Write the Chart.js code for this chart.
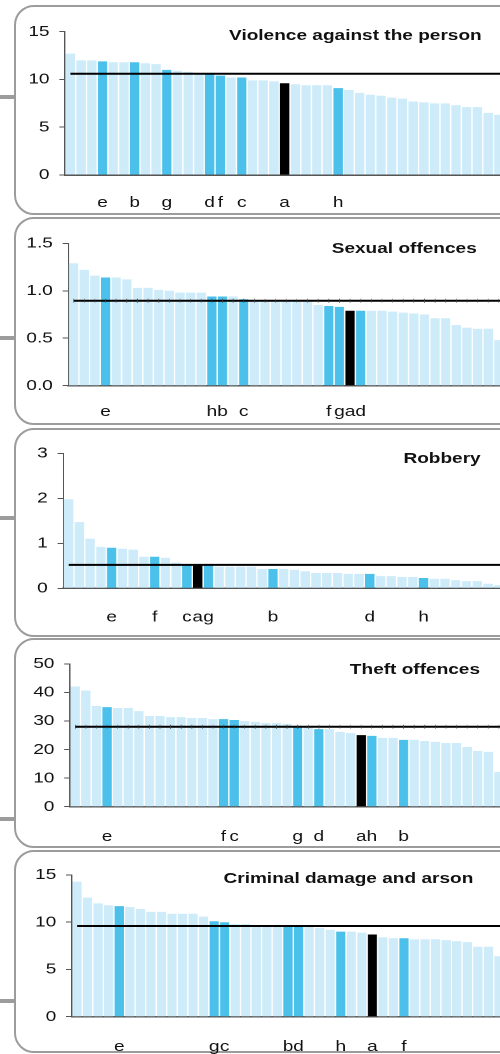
<!doctype html>
<html>

<head>
	<title>Offence rates by force</title>
	<script src="https://cdn.jsdelivr.net/npm/chart.js@4.4.1/dist/chart.umd.min.js"></script>
	<style>
		body { margin: 0; width: 500px; height: 1054px; overflow: hidden; position: relative; background: #fff; font-family: 'Liberation Sans', Arial, sans-serif; }
		.box { position: absolute; left: 14px; width: 520px; border: 2px solid #9c9c9c; border-radius: 20px; box-sizing: border-box; }
		.stub { position: absolute; left: 0; width: 15px; height: 4px; background: #9c9c9c; }
		/* the original picture is stretched sideways, so the charts are too */
		#wrap { position: absolute; left: 0; top: 0; width: 397px; height: 1054px; transform: scaleX(1.27); transform-origin: 0 0; }
		#wrap canvas { position: absolute; left: 0; }
		.ttl { position: absolute; left: 0; font-weight: bold; font-size: 15px; line-height: 15px; text-align: right; color: #111; white-space: nowrap; }
	</style>
</head>

<body>
	<div class="stub" style="top:95px"></div>
	<div class="stub" style="top:336px"></div>
	<div class="stub" style="top:516px"></div>
	<div class="stub" style="top:817px"></div>
	<div class="stub" style="top:999px"></div>

	<div class="box" style="top:5px;height:210px"></div>
	<div class="box" style="top:217px;height:208px"></div>
	<div class="box" style="top:428px;height:209px"></div>
	<div class="box" style="top:638px;height:210px"></div>
	<div class="box" style="top:850px;height:203px"></div>

	<div id="wrap">
		<canvas id="violence" width="397" height="205" style="top:12px"></canvas>
		<canvas id="sexual" width="397" height="205" style="top:223px"></canvas>
		<canvas id="robbery" width="397" height="205" style="top:433px"></canvas>
		<canvas id="theft" width="397" height="205" style="top:644px"></canvas>
		<canvas id="damage" width="397" height="205" style="top:855px"></canvas>

		<div class="ttl" style="top:27.3px;width:379.3px">Violence against the person</div>
		<div class="ttl" style="top:240.3px;width:375.4px">Sexual offences</div>
		<div class="ttl" style="top:450.3px;width:378.5px">Robbery</div>
		<div class="ttl" style="top:661.3px;width:378px">Theft offences</div>
		<div class="ttl" style="top:870.3px;width:372.7px">Criminal damage and arson</div>
	</div>

	<script>
		// forces sorted by rate; only the highlighted ones carry a letter
		var violenceLabels = ['', '', '', 'e', '', '', 'b', '', '', 'g', '', '', '', 'd', 'f', '', 'c', '', '', '', 'a', '', '', '', '', 'h', '', '', '', '', '', '', '', '', '', '', '', '', '', '', ''];
		var violenceValues = [12.7, 12.0, 12.0, 11.9, 11.8, 11.8, 11.8, 11.7, 11.6, 11.0, 10.9, 10.8, 10.6, 10.6, 10.4, 10.2, 10.2, 9.9, 9.9, 9.8, 9.6, 9.5, 9.4, 9.4, 9.4, 9.1, 8.9, 8.6, 8.4, 8.3, 8.1, 8.0, 7.7, 7.6, 7.5, 7.5, 7.3, 7.1, 7.1, 6.5, 6.3];
		var violenceMean = 10.6;

		var sexualLabels = ['', '', '', 'e', '', '', '', '', '', '', '', '', '', 'h', 'b', '', 'c', '', '', '', '', '', '', '', 'f', 'g', 'a', 'd', '', '', '', '', '', '', '', '', '', '', '', '', ''];
		var sexualValues = [1.29, 1.22, 1.16, 1.14, 1.14, 1.12, 1.03, 1.03, 1.01, 1.00, 0.98, 0.98, 0.98, 0.94, 0.94, 0.94, 0.91, 0.90, 0.90, 0.90, 0.90, 0.90, 0.90, 0.85, 0.84, 0.83, 0.79, 0.79, 0.79, 0.79, 0.78, 0.77, 0.76, 0.75, 0.71, 0.71, 0.64, 0.61, 0.60, 0.60, 0.48];
		var sexualMean = 0.895;

		var robberyLabels = ['', '', '', '', 'e', '', '', '', 'f', '', '', 'c', 'a', 'g', '', '', '', '', '', 'b', '', '', '', '', '', '', '', '', 'd', '', '', '', '', 'h', '', '', '', '', '', '', ''];
		var robberyValues = [1.98, 1.47, 1.10, 0.92, 0.90, 0.88, 0.86, 0.70, 0.70, 0.68, 0.57, 0.53, 0.52, 0.52, 0.48, 0.48, 0.48, 0.48, 0.43, 0.43, 0.43, 0.41, 0.38, 0.34, 0.34, 0.34, 0.32, 0.32, 0.32, 0.27, 0.27, 0.25, 0.25, 0.23, 0.21, 0.21, 0.18, 0.16, 0.16, 0.10, 0.07];
		var robberyMean = 0.52;

		var theftLabels = ['', '', '', 'e', '', '', '', '', '', '', '', '', '', '', 'f', 'c', '', '', '', '', '', 'g', '', 'd', '', '', '', 'a', 'h', '', '', 'b', '', '', '', '', '', '', '', '', ''];
		var theftValues = [42.1, 40.7, 35.3, 34.9, 34.6, 34.6, 33.5, 31.8, 31.8, 31.4, 31.4, 31.1, 31.1, 30.7, 30.7, 30.4, 30.0, 29.7, 29.3, 29.3, 29.0, 28.3, 28.0, 27.2, 27.2, 26.2, 25.8, 25.1, 24.8, 24.1, 24.1, 23.4, 23.4, 23.0, 22.7, 22.3, 22.3, 20.9, 19.5, 19.2, 12.2];
		var theftMean = 28.0;

		var damageLabels = ['', '', '', '', 'e', '', '', '', '', '', '', '', '', 'g', 'c', '', '', '', '', '', 'b', 'd', '', '', '', 'h', '', '', 'a', '', '', 'f', '', '', '', '', '', '', '', '', ''];
		var damageValues = [14.3, 12.6, 12.0, 11.8, 11.7, 11.6, 11.4, 11.1, 11.1, 10.9, 10.9, 10.9, 10.6, 10.1, 10.0, 9.8, 9.8, 9.6, 9.6, 9.6, 9.6, 9.6, 9.6, 9.4, 9.2, 9.0, 9.0, 8.9, 8.7, 8.4, 8.3, 8.3, 8.2, 8.2, 8.2, 8.1, 8.0, 7.9, 7.4, 7.4, 6.4];
		var damageMean = 9.6;

		Chart.defaults.font.family = "'Liberation Sans', Arial, sans-serif";
		Chart.defaults.font.size = 15;
		Chart.defaults.color = '#111';

		// black line for the average, drawn through the chart's own scales
		var meanLine = {
			id: 'meanLine',
			afterDatasetsDraw: function(chart, args, opts) {
				var xs = chart.scales.x;
				var py = chart.scales.y.getPixelForValue(opts.value);
				var ctx = chart.ctx;
				ctx.save();
				ctx.strokeStyle = '#000';
				ctx.lineWidth = 2;
				ctx.beginPath();
				ctx.moveTo(xs.getPixelForValue(0), py);
				ctx.lineTo(chart.width, py);
				ctx.stroke();
				if (opts.marks) {
					ctx.lineWidth = 0.5;
					ctx.strokeStyle = '#444';
					ctx.beginPath();
					for (var i = 0; i < xs.ticks.length; i++) {
						var px = xs.getPixelForValue(i);
						ctx.moveTo(px, py - 2);
						ctx.lineTo(px, py + 2);
					}
					ctx.stroke();
				}
				ctx.restore();
			}
		};

		function barColours(labels) {
			return labels.map(function(l) {
				if (l === 'a') return '#000000';
				return l ? '#4ac0eb' : '#cdebf8';
			});
		}

		// plotTop / plotBottom: where the axis maximum and zero sit inside the canvas
		function makePanel(id, labels, values, mean, yMax, step, decimals, axisWidth, plotTop, plotBottom, labelPad, marks) {
			var canvas = document.getElementById(id);
			var ctx = canvas.getContext('2d');
			var xAxisHeight = canvas.height - plotBottom;
			return new Chart(ctx, {
				type: 'bar',
				data: {
					labels: labels,
					datasets: [{
						data: values,
						backgroundColor: barColours(labels),
						barPercentage: 0.87,
						categoryPercentage: 1
					}]
				},
				options: {
					responsive: false,
					animation: false,
					devicePixelRatio: 2,
					layout: { autoPadding: false, padding: { top: plotTop, right: 0, bottom: 0, left: 0 } },
					plugins: {
						legend: { display: false },
						tooltip: { enabled: false },
						meanLine: { value: mean, marks: marks }
					},
					scales: {
						x: {
							z: 1,
							grid: { display: false, drawTicks: false },
							border: { color: '#555', width: 1.5 },
							ticks: { autoSkip: false, maxRotation: 0, minRotation: 0, padding: labelPad },
							afterFit: function(s) {
								s.height = xAxisHeight;
								// the bars run right up to the edge of the picture
								s.paddingLeft = 0;
								s.paddingRight = 0;
							}
						},
						y: {
							min: 0,
							max: yMax,
							ticks: {
								stepSize: step,
								padding: 7.7,
								callback: function(v) { return v.toFixed(decimals); }
							},
							grid: { drawOnChartArea: false, tickLength: 4.5, color: '#555' },
							border: { color: '#555', width: 1 },
							afterFit: function(s) { s.width = axisWidth; }
						}
					}
				},
				plugins: [meanLine]
			});
		}

		window.onload = function() {
			makePanel('violence', violenceLabels, violenceValues, violenceMean, 15, 5, 0, 51.2, 19.7, 163, 19, false);
			makePanel('sexual', sexualLabels, sexualValues, sexualMean, 1.5, 0.5, 1, 53.8, 20.3, 162.7, 17.3, true);
			makePanel('robbery', robberyLabels, robberyValues, robberyMean, 3, 1, 0, 49.8, 20.3, 155.3, 20, false);
			makePanel('theft', theftLabels, theftValues, theftMean, 50, 10, 0, 55.1, 20, 162.7, 21, true);
			makePanel('damage', damageLabels, damageValues, damageMean, 15, 5, 0, 56.5, 20, 161.7, 21, false);
		};
	</script>
</body>

</html>
